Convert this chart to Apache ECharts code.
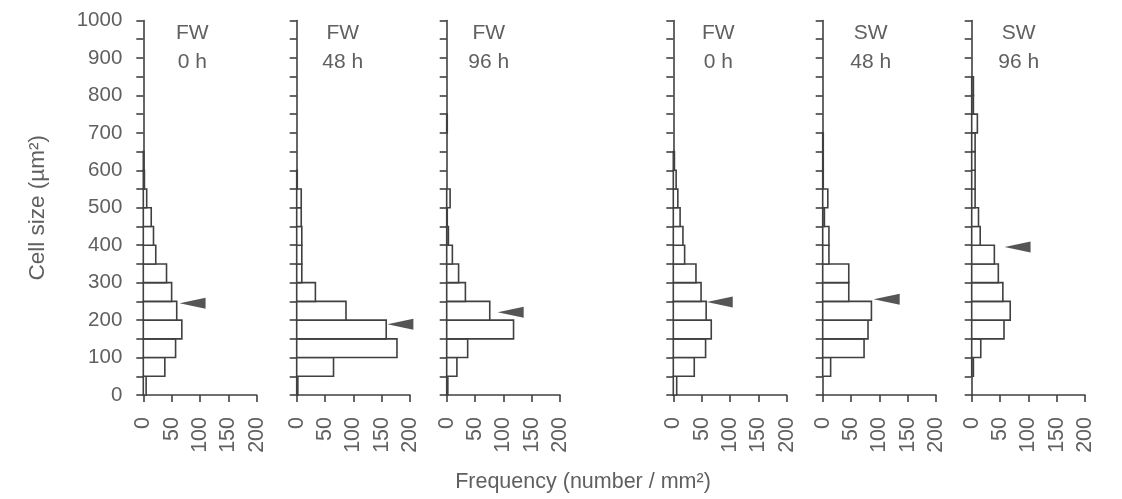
<!DOCTYPE html>
<html><head><meta charset="utf-8">
<script src="https://cdn.jsdelivr.net/npm/echarts@6/dist/echarts.min.js"></script>
<style>html,body{margin:0;padding:0;background:#fff}#c{width:1122px;height:499px}</style>
</head><body><div id="c"></div>
<script>
// Bin lower edges (cell size, µm²), bins 50 wide
const binStarts = [0,50,100,150,200,250,300,350,400,450,500,550,600,650,700,750,800,850,900,950];
// Frequencies (number / mm²) per bin
const fw0hA  = [5, 38, 57, 68, 59, 50, 41, 22, 18, 14, 6, 2, 1, 0, 0, 0, 0, 0, 0, 0];
const fw48h  = [2, 65, 177, 158, 87, 33, 9, 9, 9, 8, 8, 1, 0, 0, 0, 0, 0, 0, 0, 0];
const fw96h  = [2, 18, 37, 118, 76, 33, 21, 10, 3, 1, 6, 0, 0, 0, 1, 0, 0, 0, 0, 0];
const fw0hB  = [6, 37, 57, 67, 58, 49, 40, 20, 17, 12, 8, 5, 2, 0, 0, 0, 0, 0, 0, 0];
const sw48h  = [0, 14, 73, 80, 86, 46, 46, 11, 11, 3, 9, 1, 1, 1, 0, 0, 0, 0, 0, 0];
const sw96h  = [0, 3, 16, 57, 68, 55, 47, 40, 15, 12, 6, 6, 6, 6, 10, 3, 3, 0, 0, 0];
const panelTitles = [['FW','0 h'],['FW','48 h'],['FW','96 h'],['FW','0 h'],['SW','48 h'],['SW','96 h']];
// Arrow markers: mean cell size (y) and arrow centre position (x, frequency units)
const meanSize = [245, 189, 221, 248, 256, 395];
const arrowX   = [87, 183, 113, 82, 113, 81];
const xTickValues = [0, 50, 100, 150, 200];
const yTickLabels = [0,100,200,300,400,500,600,700,800,900,1000];
const yAxisName = 'Cell size (µm²)';
const xAxisName = 'Frequency (number / mm²)';

const panels = [fw0hA, fw48h, fw96h, fw0hB, sw48h, sw96h];

// layout
const gridLefts = [143.3, 296.7, 446.7, 673.3, 822.7, 971.7];
const titleOffsets = [49, 46, 42, 45, 48, 47];
const gridTop = 20.5, gridH = 374.5, gridW = 113.3;
const lineColor = '#404040', textColor = '#606060';
const FONT = '"Liberation Sans", Arial, sans-serif';

const grids = [], xAxes = [], yAxes = [], series = [], graphics = [];
panels.forEach((vals, i) => {
  grids.push({left: gridLefts[i], top: gridTop, width: gridW, height: gridH, outerBoundsMode: 'none'});
  xAxes.push({
    type: 'value', gridIndex: i, min: xTickValues[0], max: xTickValues[xTickValues.length-1],
    interval: xTickValues[1]-xTickValues[0],
    splitLine: {show: false},
    axisLine: {show: true, lineStyle: {color: lineColor, width: 1.6}},
    axisTick: {show: true, length: 7, lineStyle: {color: lineColor, width: 1.6}},
    axisLabel: {rotate: 90, margin: 22, fontSize: 21.5, color: textColor, fontFamily: FONT}
  });
  yAxes.push({
    type: 'value', gridIndex: i, min: 0, max: 1000, interval: 50,
    splitLine: {show: false},
    axisLine: {show: true, onZero: false, lineStyle: {color: lineColor, width: 1.6}},
    axisTick: {show: true, length: 7, lineStyle: {color: lineColor, width: 1.6}},
    axisLabel: {show: i === 0, margin: 21, fontSize: 20.5, color: textColor, fontFamily: FONT,
      formatter: v => yTickLabels.indexOf(v) >= 0 ? String(v) : ''},
    name: i === 0 ? yAxisName : '', nameLocation: 'middle', nameGap: 94, nameRotate: 90,
    nameTextStyle: {fontSize: 22.5, color: textColor, fontFamily: FONT}
  });
  series.push({
    type: 'custom', xAxisIndex: i, yAxisIndex: i,
    data: binStarts.map((b, k) => [b, vals[k]]),
    encode: {x: 1, y: 0},
    renderItem: function (params, api) {
      const lo = api.value(0), v = api.value(1);
      if (!(v > 0)) return null;
      const p0 = api.coord([0, lo]);
      const p1 = api.coord([v, lo + 50]);
      return {type: 'rect', shape: {x: p0[0], y: p1[1], width: p1[0] - p0[0], height: p0[1] - p1[1]},
        style: {fill: '#fff', stroke: lineColor, lineWidth: 1.6}};
    },
    z: 3
  });
  series.push({
    type: 'scatter', xAxisIndex: i, yAxisIndex: i,
    data: [[arrowX[i], meanSize[i]]],
    symbol: 'path://M0,5L26,0L26,10Z', symbolSize: [26, 11],
    itemStyle: {color: '#2a2a2a'}, z: 4, silent: true
  });
  graphics.push({type: 'text', x: gridLefts[i] + titleOffsets[i], y: 33,
    style: {text: panelTitles[i][0], font: '21px ' + FONT, fill: textColor, textAlign: 'center', textVerticalAlign: 'middle'}});
  graphics.push({type: 'text', x: gridLefts[i] + titleOffsets[i], y: 62,
    style: {text: panelTitles[i][1], font: '21px ' + FONT, fill: textColor, textAlign: 'center', textVerticalAlign: 'middle'}});
});
graphics.push({type: 'text', x: 583, y: 482,
  style: {text: xAxisName, font: '21.5px ' + FONT, fill: textColor, textAlign: 'center', textVerticalAlign: 'middle'}});

const chart = echarts.init(document.getElementById('c'), null, {renderer: 'canvas'});
chart.setOption({
  backgroundColor: '#fff', animation: false,
  grid: grids, xAxis: xAxes, yAxis: yAxes, series: series, graphic: graphics
});
</script>
</body></html>
